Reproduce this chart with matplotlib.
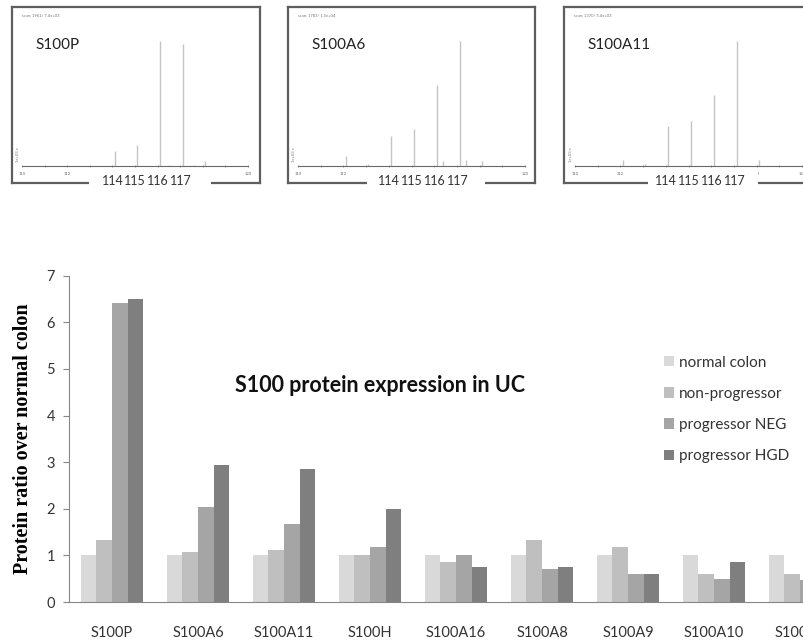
import numpy as np
import matplotlib
matplotlib.use("Agg")
import matplotlib.pyplot as plt
import matplotlib.transforms as mtransforms
from matplotlib.patches import Rectangle

plt.rcParams['font.family'] = ['Lato', 'DejaVu Sans']

# bar chart data
proteins = ['S100P', 'S100A6', 'S100A11', 'S100H', 'S100A16', 'S100A8', 'S100A9', 'S100A10', 'S100A4']
groups = ['normal colon', 'non-progressor', 'progressor NEG', 'progressor HGD']
normal_colon = [1.0, 1.0, 1.0, 1.0, 1.0, 1.0, 1.0, 1.0, 1.0]
non_progressor = [1.32, 1.07, 1.11, 1.0, 0.86, 1.32, 1.19, 0.61, 0.61]
progressor_neg = [6.41, 2.04, 1.68, 1.19, 1.0, 0.71, 0.61, 0.50, 0.47]
progressor_hgd = [6.51, 2.94, 2.86, 1.99, 0.75, 0.75, 0.59, 0.86, 0.60]
bar_colors = ['#d9d9d9', '#bfbfbf', '#a5a5a5', '#7f7f7f']

# reporter ion spectra (m/z, relative intensity)
spec_names = ['S100P', 'S100A6', 'S100A11']
spec_scans = ['scan: 1961/ 7.4e+03', 'scan: 1783/ 1.5e+04', 'scan: 1370/ 5.4e+03']
spec_mz = [
    [114.11, 115.11, 116.11, 117.12, 118.1, 116.5, 117.6],
    [112.1, 113.1, 114.11, 115.11, 116.11, 116.4, 117.12, 117.4, 118.1],
    [112.1, 113.1, 114.11, 115.11, 116.11, 117.12, 118.1],
]
spec_int = [
    [12, 17, 100, 98, 4, 1, 1],
    [8, 1.5, 24, 30, 65, 4, 100, 5, 4],
    [4.5, 1.5, 32, 36, 57, 100, 4.5],
]
reporter_labels = ['114', '115', '116', '117']
reporter_mz = [114.11, 115.11, 116.11, 117.12]

W, H = 804, 644
fig = plt.figure(figsize=(W / 100, H / 100), dpi=100)


def px(x0, y0, x1, y1):
    return [x0 / W, 1 - y1 / H, (x1 - x0) / W, (y1 - y0) / H]


# top panels: frame, spectrum axes, white label box
frames = [(12, 7, 260, 183), (288, 7, 535, 183), (564, 7, 812, 183)]
spec_axes = [(22, 41, 248, 166), (298, 41, 525, 166), (575, 41, 802, 166)]
label_boxes = [(89, 211), (367, 485), (648, 758)]

for i in range(3):
    fr = fig.add_axes(px(*frames[i]))
    fr.set_xticks([])
    fr.set_yticks([])
    for s in fr.spines.values():
        s.set_color('#5e5e5e')
        s.set_linewidth(1.6)

    sa = fig.add_axes(px(*spec_axes[i]))
    sa.patch.set_alpha(0)
    sa.vlines(spec_mz[i], 0, spec_int[i], color='#c4c4c4', lw=1.0)
    sa.set_xlim(110, 120)
    sa.set_ylim(0, 100)
    for s in ['top', 'right', 'left']:
        sa.spines[s].set_visible(False)
    sa.spines['bottom'].set_color('#6a6a6a')
    sa.spines['bottom'].set_linewidth(0.8)
    sa.set_yticks([])
    sa.set_xticks(range(110, 121))
    sa.set_xticklabels([str(v) if v % 2 == 0 else '' for v in range(110, 121)])
    sa.tick_params(axis='x', length=2, width=0.5, direction='inout', colors='#6a6a6a',
                   labelsize=3, pad=3)
    sa.text(-0.01, 0.03, '1e+03 x', transform=sa.transAxes, rotation=90,
            fontsize=3, color='#777777', ha='right', va='bottom')

    fx0, fy0 = frames[i][0], frames[i][1]
    fig.text((fx0 + 10) / W, 1 - (fy0 + 9) / H, spec_scans[i], fontsize=3,
             color='#777777', va='center')
    fig.text((fx0 + 23) / W, 1 - 45 / H, spec_names[i], fontsize=11,
             color='#222222', va='center')

    bx0, bx1 = label_boxes[i]
    fig.add_artist(Rectangle((bx0 / W, 1 - 192 / H), (bx1 - bx0) / W, 23 / H,
                             transform=fig.transFigure, facecolor='white',
                             edgecolor='none', zorder=5))
    trans = mtransforms.blended_transform_factory(sa.transData, fig.transFigure)
    for lab, m in zip(reporter_labels, reporter_mz):
        fig.text(m - 0.1, 1 - 181 / H, lab, transform=trans, fontsize=9,
                 color='#333333', ha='center', va='center', zorder=6)

# main bar chart
ax = fig.add_axes(px(69, 275.7, 843, 602))
x = np.arange(len(proteins))
w = 0.183
series = [normal_colon, non_progressor, progressor_neg, progressor_hgd]
for k in range(4):
    ax.bar(x + (k - 1.5) * w, series[k], w, color=bar_colors[k], label=groups[k])

ax.set_xlim(-0.5, len(proteins) - 0.5)
ax.set_ylim(0, 7)
ax.set_yticks(range(0, 8))
ax.set_xticks(x)
ax.set_xticklabels(proteins)
ax.spines['top'].set_visible(False)
ax.spines['right'].set_visible(False)
ax.spines['left'].set_color('#868686')
ax.spines['bottom'].set_color('#868686')
ax.tick_params(axis='y', length=4, color='#868686', labelsize=10.5, labelcolor='#333333', pad=6)
ax.tick_params(axis='x', length=0, labelsize=10.5, labelcolor='#333333', pad=17)
ax.set_ylabel('Protein ratio over normal colon', family='Liberation Serif',
              fontweight='bold', fontsize=14.5)
ax.yaxis.set_label_coords((33 - 69) / 774, 0.5)

fig.text(380 / W, 1 - 385 / H, 'S100 protein expression in UC', fontsize=15.5,
         fontweight='bold', color='#111111', ha='center', va='center')

ax.legend(loc='upper left', bbox_to_anchor=(653 / W, 1 - 345 / H),
          bbox_transform=fig.transFigure, frameon=False, fontsize=11,
          handlelength=0.65, handleheight=0.65, handletextpad=0.35,
          labelspacing=1.12, borderpad=0.2, labelcolor='#333333')

fig.savefig('out.png', dpi=100)
